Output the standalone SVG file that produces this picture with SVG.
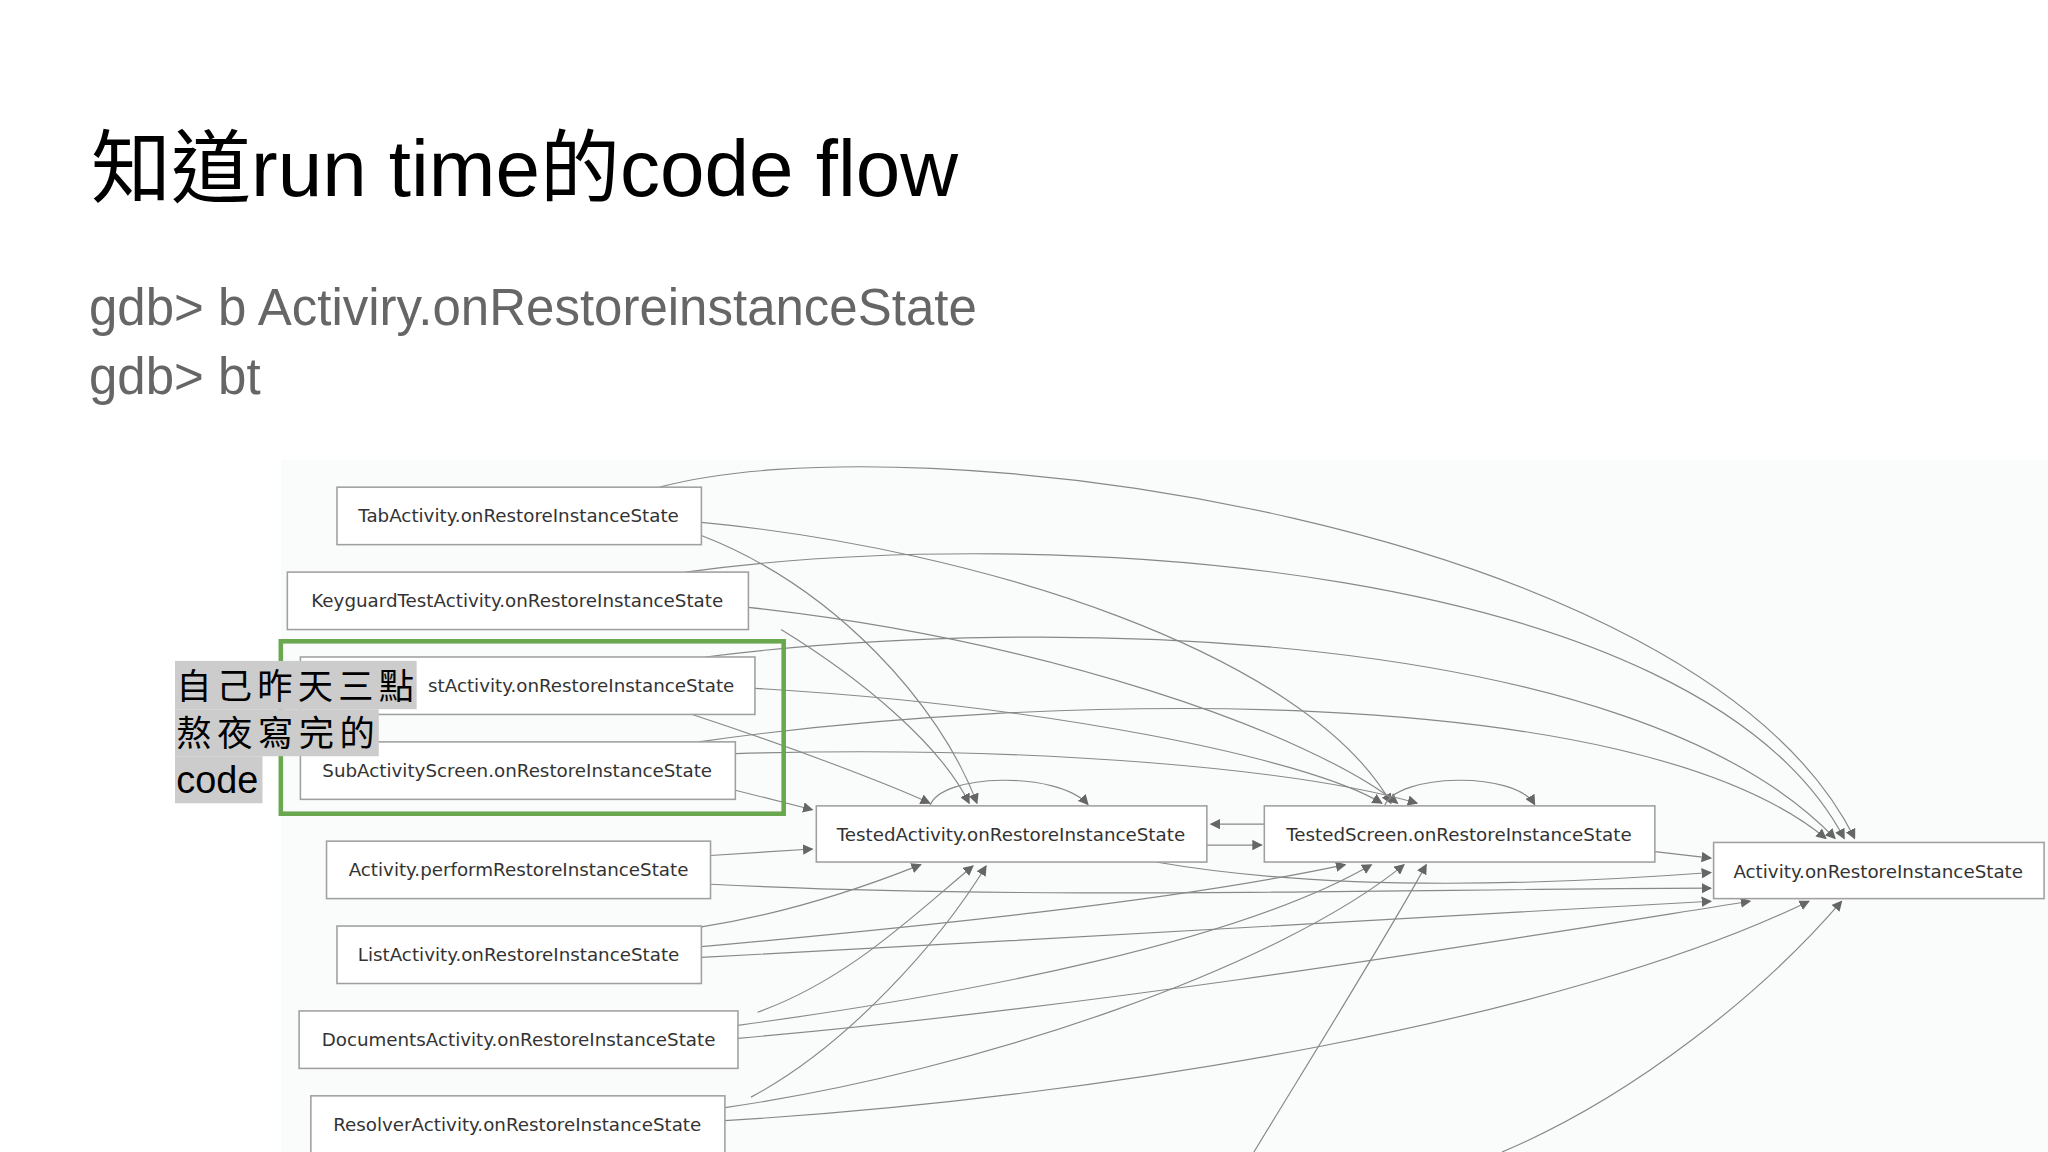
<svg xmlns="http://www.w3.org/2000/svg" width="2048" height="1152" viewBox="0 0 2048 1152">
<style>
.t{font-family:"Liberation Sans",Arial,sans-serif}
.n rect{fill:#fff;stroke:#a0a0a0;stroke-width:1.2}
.n text{font-family:"DejaVu Sans",sans-serif;font-size:14px;fill:#333;text-anchor:middle}
.e path{fill:none;stroke:#888;stroke-width:0.9;marker-end:url(#a)}
.cj{font-family:"Noto Sans CJK TC","Noto Sans CJK SC",sans-serif;font-size:27px;fill:#000}
</style>
<defs><marker id="a" viewBox="0 0 10 10" refX="9" refY="5" markerWidth="8" markerHeight="8" markerUnits="userSpaceOnUse" orient="auto"><path d="M0,0 L10,5 L0,10 z" fill="#666"/></marker></defs>
<rect width="2048" height="1152" fill="#fff"/>
<text class="t" x="91" y="196" font-size="80" fill="#000"><tspan font-family="Noto Sans CJK TC,sans-serif">知道</tspan>run time<tspan font-family="Noto Sans CJK TC,sans-serif">的</tspan>code flow</text>
<text class="t" x="89" y="325" font-size="51" fill="#666">gdb&gt; b Activiry.onRestoreinstanceState</text>
<text class="t" x="89" y="394" font-size="51" fill="#666">gdb&gt; bt</text>
<g transform="scale(1.30612)">
<rect x="215" y="352" width="1353" height="530" fill="#fafbfb"/>
<g class="e">
<path d="M505,373 C700,320 1300,400 1420,642"/>
<path d="M537,400 C750,420 1000,500 1065,615"/>
<path d="M537,410 C640,450 720,540 748,615"/>
<path d="M525,438 C800,400 1300,430 1412,642"/>
<path d="M573,465 C800,490 1000,560 1070,615"/>
<path d="M598,482 C660,520 720,570 742,615"/>
<path d="M540,503 C800,470 1250,480 1405,642"/>
<path d="M578,527 C800,540 1000,580 1058,615"/>
<path d="M530,547 C600,570 680,600 712,615"/>
<path d="M535,568 C800,530 1250,520 1398,642"/>
<path d="M563,577 C800,570 1000,590 1085,615"/>
<path d="M563,605 L622,620"/>
<path d="M544,655 L622,650"/>
<path d="M544,677 C800,690 1100,680 1310,680"/>
<path d="M885,660 C1000,680 1150,680 1310,668"/>
<path d="M535,710 C600,700 660,680 705,662"/>
<path d="M535,725 C700,710 900,690 1030,662"/>
<path d="M537,733 C800,720 1100,700 1310,690"/>
<path d="M580,775 C650,750 700,700 745,663"/>
<path d="M565,785 C750,760 950,720 1050,662"/>
<path d="M565,795 C850,770 1150,720 1340,690"/>
<path d="M575,840 C650,800 720,720 755,663"/>
<path d="M555,848 C750,820 980,740 1075,662"/>
<path d="M555,858 C850,840 1200,780 1385,690"/>
<path d="M960,882 C1010,800 1060,720 1092,662"/>
<path d="M1150,882 C1250,840 1350,760 1410,690"/>
<path d="M712,617 C720,592 810,590 833,616"/>
<path d="M1060,617 C1070,592 1160,590 1175,616"/>
<path d="M968,631 L927,631"/>
<path d="M924,647 L966,647"/>
<path d="M1267,652 L1310,657"/>
</g>
<g id="n1" class="n"><rect x="258" y="373" width="279" height="44"/><text x="397" y="400">TabActivity.onRestoreInstanceState</text></g>
<g id="n2" class="n"><rect x="220" y="438" width="353" height="44"/><text x="396" y="465">KeyguardTestActivity.onRestoreInstanceState</text></g>
<g id="n3" class="n"><rect x="230" y="503" width="348" height="44"/><text x="445" y="530">stActivity.onRestoreInstanceState</text></g>
<g id="n4" class="n"><rect x="230" y="568" width="333" height="44"/><text x="396" y="595">SubActivityScreen.onRestoreInstanceState</text></g>
<g id="n5" class="n"><rect x="250" y="644" width="294" height="44"/><text x="397" y="671">Activity.performRestoreInstanceState</text></g>
<g id="n6" class="n"><rect x="258" y="709" width="279" height="44"/><text x="397" y="736">ListActivity.onRestoreInstanceState</text></g>
<g id="n7" class="n"><rect x="229" y="774" width="336" height="44"/><text x="397" y="801">DocumentsActivity.onRestoreInstanceState</text></g>
<g id="n8" class="n"><rect x="238" y="839" width="317" height="50"/><text x="396" y="866">ResolverActivity.onRestoreInstanceState</text></g>
<g id="n9" class="n"><rect x="625" y="617" width="299" height="43"/><text x="774" y="644">TestedActivity.onRestoreInstanceState</text></g>
<g id="n10" class="n"><rect x="968" y="617" width="299" height="43"/><text x="1117" y="644">TestedScreen.onRestoreInstanceState</text></g>
<g id="n11" class="n"><rect x="1312" y="645" width="253" height="43"/><text x="1438" y="672">Activity.onRestoreInstanceState</text></g>
<rect x="215" y="491" width="385" height="132" fill="none" stroke="#6aa84f" stroke-width="3.5"/>
<g id="label">
<rect x="134" y="506" width="185" height="37" fill="#ccc"/>
<rect x="134" y="543" width="156" height="36" fill="#ccc"/>
<rect x="134" y="579" width="67" height="36" fill="#ccc"/>
<text class="cj" x="135" y="535" textLength="182">自己昨天三點</text>
<text class="cj" x="135" y="571" textLength="152">熬夜寫完的</text>
<text x="135" y="607" font-family="Liberation Sans,sans-serif" font-size="29" fill="#000">code</text>
</g>
</g>
</svg>
